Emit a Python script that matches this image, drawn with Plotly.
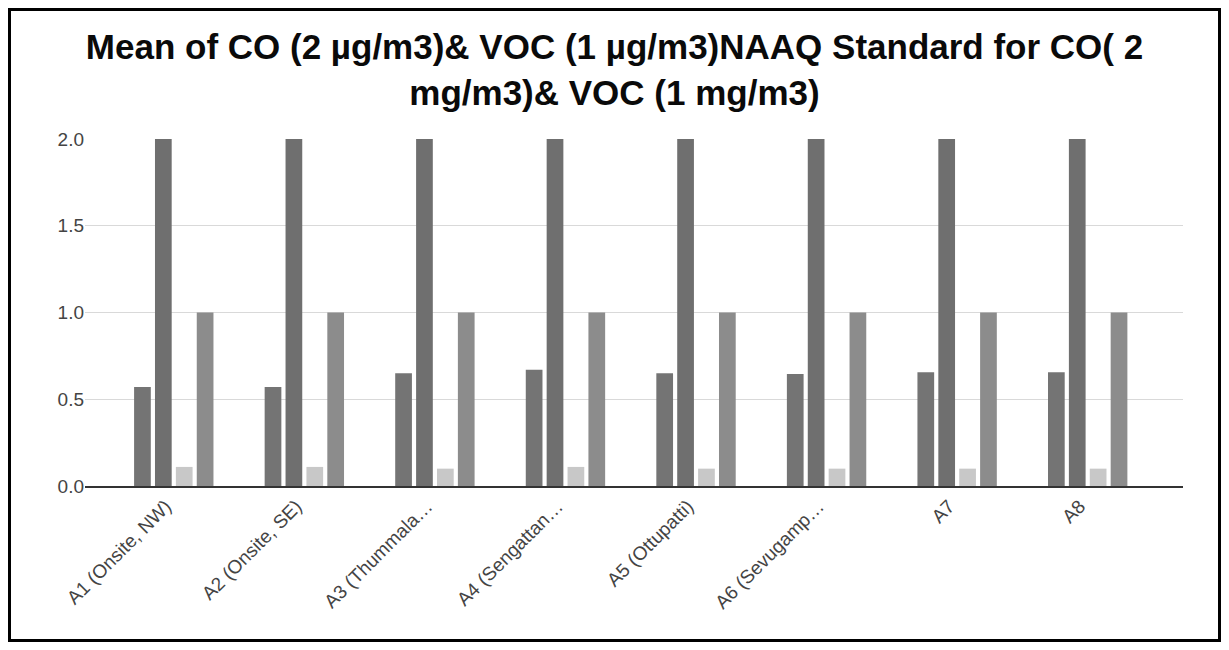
import plotly.graph_objects as go

# stations (labels are truncated in the source chart)
stations = ["A1 (Onsite, NW)", "A2 (Onsite, SE)", "A3 (Thummala…", "A4 (Sengattan…",
            "A5 (Ottupatti)", "A6 (Sevugamp…", "A7", "A8"]

co_mean = [0.57, 0.57, 0.65, 0.67, 0.65, 0.645, 0.655, 0.655]
co_std = [2, 2, 2, 2, 2, 2, 2, 2]
voc_mean = [0.11, 0.11, 0.10, 0.11, 0.10, 0.10, 0.10, 0.10]
voc_std = [1, 1, 1, 1, 1, 1, 1, 1]

series_names = ["Mean of CO", "NAAQ Standard for CO", "Mean of VOC", "NAAQ Standard for VOC"]
series_colors = ["#747474", "#6f6f6f", "#c8c8c8", "#8c8c8c"]

# page has an 8px body margin, so the figure is a bit smaller than the window
W, H = 1213, 634
ml, mr, mt, mb = 77, 38, 131, 156

fig = go.Figure()
for name, vals, col in zip(series_names, [co_mean, co_std, voc_mean, voc_std], series_colors):
    fig.add_trace(go.Bar(x=stations, y=vals, name=name, marker_color=col, marker_line_width=0))

fig.update_layout(
    width=W, height=H,
    margin=dict(l=ml, r=mr, t=mt, b=mb),
    paper_bgcolor="white", plot_bgcolor="white",
    showlegend=False,
    barmode="group", bargap=0.36, bargroupgap=0.2,
    font=dict(family="Liberation Sans, Arial, sans-serif", color="#444444"),
    title=dict(
        text="<b>Mean of CO (2 µg/m3)& VOC (1 µg/m3)NAAQ Standard for CO( 2<br>mg/m3)& VOC (1 mg/m3)</b>",
        x=0.5, xanchor="center", y=0.919, yanchor="middle",
        font=dict(size=35, color="#0a0a0a"),
    ),
)
fig.update_xaxes(range=[-0.68, 7.73], tickangle=-45, tickfont=dict(size=19, color="#444444"),
                 ticklabelshift=-8,
                 showline=True, linecolor="#333333", linewidth=1.5, ticks="", showgrid=False)
fig.update_yaxes(range=[0, 2.0], dtick=0.5, tickformat=".1f",
                 tickfont=dict(size=19, color="#444444"),
                 gridcolor="#d9d9d9", gridwidth=1, zeroline=False, ticks="")

# black frame around the whole chart, converted to paper coordinates
pw, ph = W - ml - mr, H - mt - mb
fx0, fx1 = (1.5 - ml) / pw, (W - 1.5 - ml) / pw
fy0, fy1 = -(mb - 1.5) / ph, (ph + mt - 1.5) / ph
fig.add_shape(type="rect", xref="paper", yref="paper", x0=fx0, x1=fx1, y0=fy0, y1=fy1,
              line=dict(color="black", width=3), layer="above")

fig.write_html("out.html")
